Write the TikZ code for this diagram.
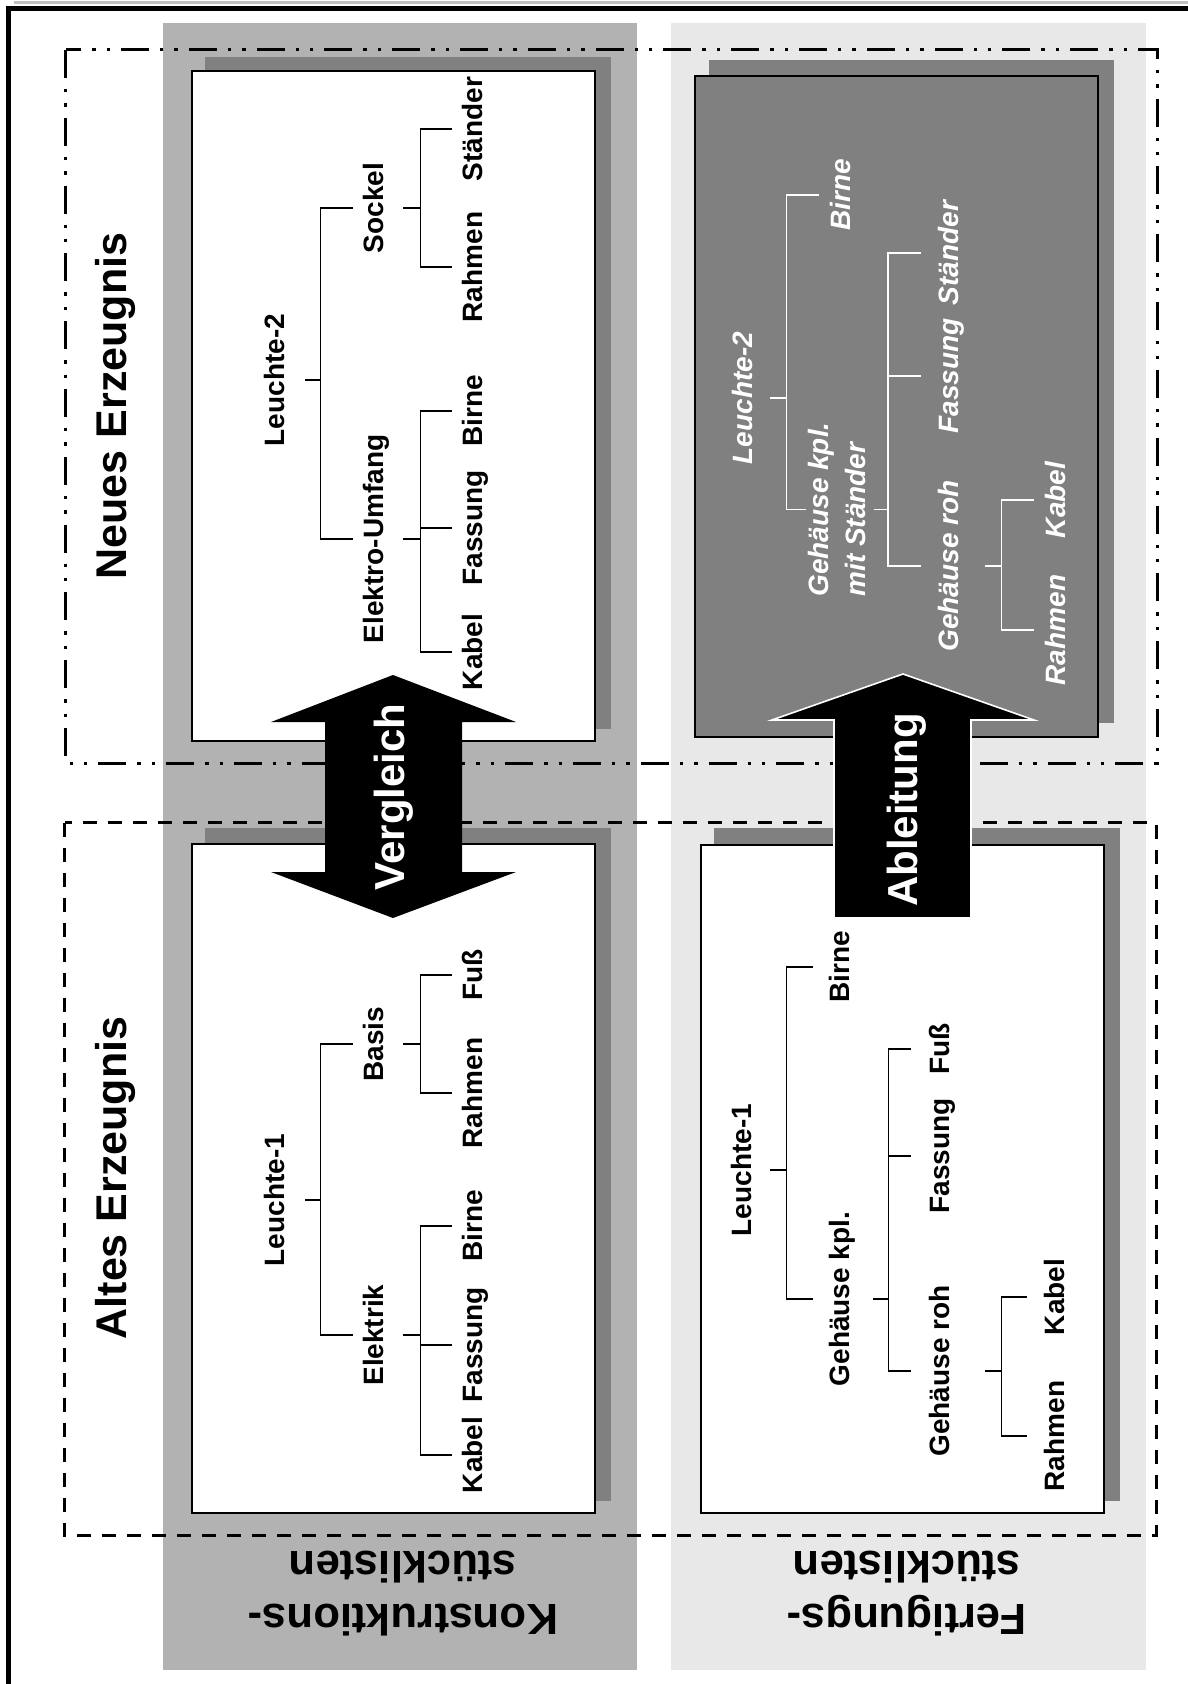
\documentclass[tikz,border=0pt]{standalone}
\usepackage{fontspec}
\setmainfont{Liberation Sans}
\usetikzlibrary{calc}

\tikzset{
    partlabel/.style={rotate=90, inner sep=0pt, text height=10pt, text depth=3pt,
        font=\fontsize{14}{18.5}\selectfont\bfseries},
    partlabel_w/.style={partlabel, text=white,
        font=\fontsize{14}{18.5}\selectfont\bfseries\itshape},
    heading/.style={rotate=90, inner sep=0pt, font=\fontsize{21.5}{25}\selectfont\bfseries},
    arrowtext/.style={rotate=90, inner sep=0pt, text=white, font=\fontsize{21}{25}\selectfont\bfseries},
    collabel/.style={rotate=180, inner sep=0pt, align=center,
        font=\fontsize{21.8}{26.5}\selectfont\bfseries},
    bracket/.style={line width=0.7pt},
    listbox/.style={draw=black, line width=0.8pt, fill=white},
    neu_line/.style={line width=1.5pt, dash pattern=on 14pt off 5.5pt on 1.7pt off 5.5pt on 1.7pt off 5.5pt},
    alt_line/.style={line width=1.5pt, dash pattern=on 7pt off 5.5pt}
}

\begin{document}
\begin{tikzpicture}[x=0.5pt, y=-0.5pt]
            \useasboundingbox (0,0) rectangle (1187,1684);

            % Frame
            \draw[black!25, line width=1.5pt] (14,3) -- (1200,3);
            \draw[line width=2.5pt] (8.5,1700) -- (8.5,8.5) -- (1200,8.5);

            % Columns (Konstruktion / Fertigung)
            \fill[black!30] (163,23) rectangle (637,1670);
            \fill[black!9] (671,23) rectangle (1146,1670);

            % Product frames
            \draw[neu_line] (65.5,50) rectangle (1157,763);
            \draw[alt_line] (64.5,822.7) rectangle (1156,1535);

            % Boxes with shadows
            \fill[black!50] (205,57) rectangle (611,729);
            \filldraw[listbox] (192,71) rectangle (595,741);
            \fill[black!50] (709,60) rectangle (1114,723);
            \filldraw[listbox, fill=black!50] (695,76) rectangle (1098,737);
            \fill[black!50] (205,828) rectangle (611,1501);
            \filldraw[listbox] (192,844) rectangle (595,1513);
            \fill[black!50] (714,828) rectangle (1120,1501);
            \filldraw[listbox] (701,845) rectangle (1104,1513);

            % Neues Erzeugnis, Konstruktion
            \node[partlabel] (nk_root) at (277,380) {Leuchte-2};
            \node[partlabel] (nk_sockel) at (376,208) {Sockel};
            \node[partlabel] (nk_elektro) at (376,539) {Elektro-Umfang};
            \node[partlabel] (nk_staender) at (475,129) {Ständer};
            \node[partlabel] (nk_rahmen) at (475,267) {Rahmen};
            \node[partlabel] (nk_birne) at (475,411) {Birne};
            \node[partlabel] (nk_fassung) at (475,528) {Fassung};
            \node[partlabel] (nk_kabel) at (475,652) {Kabel};
            \draw[bracket] ($(nk_root.south)+(15,0)$) -- ++(15,0) |- ($(nk_sockel.north)+(-10,0)$)
                ($(nk_root.south)+(30,0)$) |- ($(nk_elektro.north)+(-10,0)$);
            \draw[bracket] ($(nk_sockel.south)+(14,0)$) -- ++(17,0) |- ($(nk_staender.north)+(-10,0)$)
                ($(nk_sockel.south)+(31,0)$) |- ($(nk_rahmen.north)+(-10,0)$);
            \draw[bracket] ($(nk_elektro.south)+(14,0)$) -- ++(17,0) |- ($(nk_birne.north)+(-10,0)$)
                ($(nk_elektro.south)+(31,0)$) |- ($(nk_fassung.north)+(-10,0)$)
                ($(nk_elektro.south)+(31,0)$) |- ($(nk_kabel.north)+(-10,0)$);

            % Altes Erzeugnis, Konstruktion
            \node[partlabel] (ak_root) at (277,1200) {Leuchte-1};
            \node[partlabel] (ak_basis) at (376,1044) {Basis};
            \node[partlabel] (ak_elektrik) at (376,1335) {Elektrik};
            \node[partlabel] (ak_fuss) at (475,975) {Fuß};
            \node[partlabel] (ak_rahmen) at (475,1093) {Rahmen};
            \node[partlabel] (ak_birne) at (475,1226) {Birne};
            \node[partlabel] (ak_fassung) at (475,1345) {Fassung};
            \node[partlabel] (ak_kabel) at (475,1455) {Kabel};
            \draw[bracket] ($(ak_root.south)+(15,0)$) -- ++(15,0) |- ($(ak_basis.north)+(-10,0)$)
                ($(ak_root.south)+(30,0)$) |- ($(ak_elektrik.north)+(-10,0)$);
            \draw[bracket] ($(ak_basis.south)+(14,0)$) -- ++(17,0) |- ($(ak_fuss.north)+(-10,0)$)
                ($(ak_basis.south)+(31,0)$) |- ($(ak_rahmen.north)+(-10,0)$);
            \draw[bracket] ($(ak_elektrik.south)+(14,0)$) -- ++(17,0) |- ($(ak_birne.north)+(-10,0)$)
                ($(ak_elektrik.south)+(31,0)$) |- ($(ak_fassung.north)+(-10,0)$)
                ($(ak_elektrik.south)+(31,0)$) |- ($(ak_kabel.north)+(-10,0)$);

            % Neues Erzeugnis, Fertigung
            \node[partlabel_w] (nf_root) at (745,398) {Leuchte-2};
            \node[partlabel_w] (nf_birne) at (843,195) {Birne};
            \node[rotate=90, inner sep=0pt, align=left, anchor=north west, text=white,
                font=\fontsize{14}{18.5}\selectfont\bfseries\itshape] (nf_gehkpl) at (807.5,597)
                {Gehäuse kpl.\\mit Ständer};
            \node[partlabel_w] (nf_staender) at (951,253) {Ständer};
            \node[partlabel_w] (nf_fassung) at (951,376) {Fassung};
            \node[partlabel_w] (nf_gehroh) at (951,566) {Gehäuse roh};
            \node[partlabel_w] (nf_kabel) at (1058,500) {Kabel};
            \node[partlabel_w] (nf_rahmen) at (1058,630) {Rahmen};
            \draw[bracket, white] ($(nf_root.south)+(12,0)$) -- ++(16,0) |- ($(nf_birne.north)+(-11,0)$)
                ($(nf_root.south)+(28,0)$) |- ($(nf_gehkpl.north)+(-2,0)$);
            \draw[bracket, white] ($(nf_gehkpl.south)+(8,0)$) -- ++(14,0) |- ($(nf_staender.north)+(-17,0)$)
                ($(nf_gehkpl.south)+(22,0)$) |- ($(nf_fassung.north)+(-17,0)$)
                ($(nf_gehkpl.south)+(22,0)$) |- ($(nf_gehroh.north)+(-17,0)$);
            \draw[bracket, white] ($(nf_gehroh.south)+(21,0)$) -- ++(16,0) |- ($(nf_kabel.north)+(-11,0)$)
                ($(nf_gehroh.south)+(37,0)$) |- ($(nf_rahmen.north)+(-11,0)$);

            % Altes Erzeugnis, Fertigung
            \node[partlabel] (af_root) at (744,1170) {Leuchte-1};
            \node[partlabel] (af_birne) at (842,967) {Birne};
            \node[partlabel] (af_gehkpl) at (842,1299) {Gehäuse kpl.};
            \node[partlabel] (af_fuss) at (942,1049) {Fuß};
            \node[partlabel] (af_fassung) at (942,1156) {Fassung};
            \node[partlabel] (af_gehroh) at (942,1371) {Gehäuse roh};
            \node[partlabel] (af_kabel) at (1057,1297) {Kabel};
            \node[partlabel] (af_rahmen) at (1057,1436) {Rahmen};
            \draw[bracket] ($(af_root.south)+(13,0)$) -- ++(16,0) |- ($(af_birne.north)+(-16,0)$)
                ($(af_root.south)+(29,0)$) |- ($(af_gehkpl.north)+(-16,0)$);
            \draw[bracket] ($(af_gehkpl.south)+(18,0)$) -- ++(15,0) |- ($(af_fuss.north)+(-18,0)$)
                ($(af_gehkpl.south)+(33,0)$) |- ($(af_fassung.north)+(-18,0)$)
                ($(af_gehkpl.south)+(33,0)$) |- ($(af_gehroh.north)+(-18,0)$);
            \draw[bracket] ($(af_gehroh.south)+(30,0)$) -- ++(16,0) |- ($(af_kabel.north)+(-17,0)$)
                ($(af_gehroh.south)+(46,0)$) |- ($(af_rahmen.north)+(-17,0)$);

            % Big arrows
            \fill (393,675) -- (516,722) -- (462,722) -- (462,872) -- (516,872) -- (393,918)
                -- (271,872) -- (325,872) -- (325,722) -- (271,722) -- cycle;
            \node[arrowtext] (vergleich_lbl) at (394,797) {Vergleich};
            \filldraw[fill=black, draw=white, line width=0.8pt] (903,674) -- (1034,720) -- (971,720)
                -- (971,918) -- (834,918) -- (834,720) -- (772,720) -- cycle;
            \node[arrowtext] (ableitung_lbl) at (907,810) {Ableitung};

            % Labels
            \node[heading, anchor=north] (neu_title) at (95,406) {Neues Erzeugnis};
            \node[heading, anchor=north] (alt_title) at (95,1178) {Altes Erzeugnis};
            \node[collabel] (konstr_lbl) at (403,1594) {Konstruktions-\\stücklisten};
            \node[collabel] (fert_lbl) at (907,1594) {Fertigungs-\\stücklisten};
        \end{tikzpicture}
\end{document}
